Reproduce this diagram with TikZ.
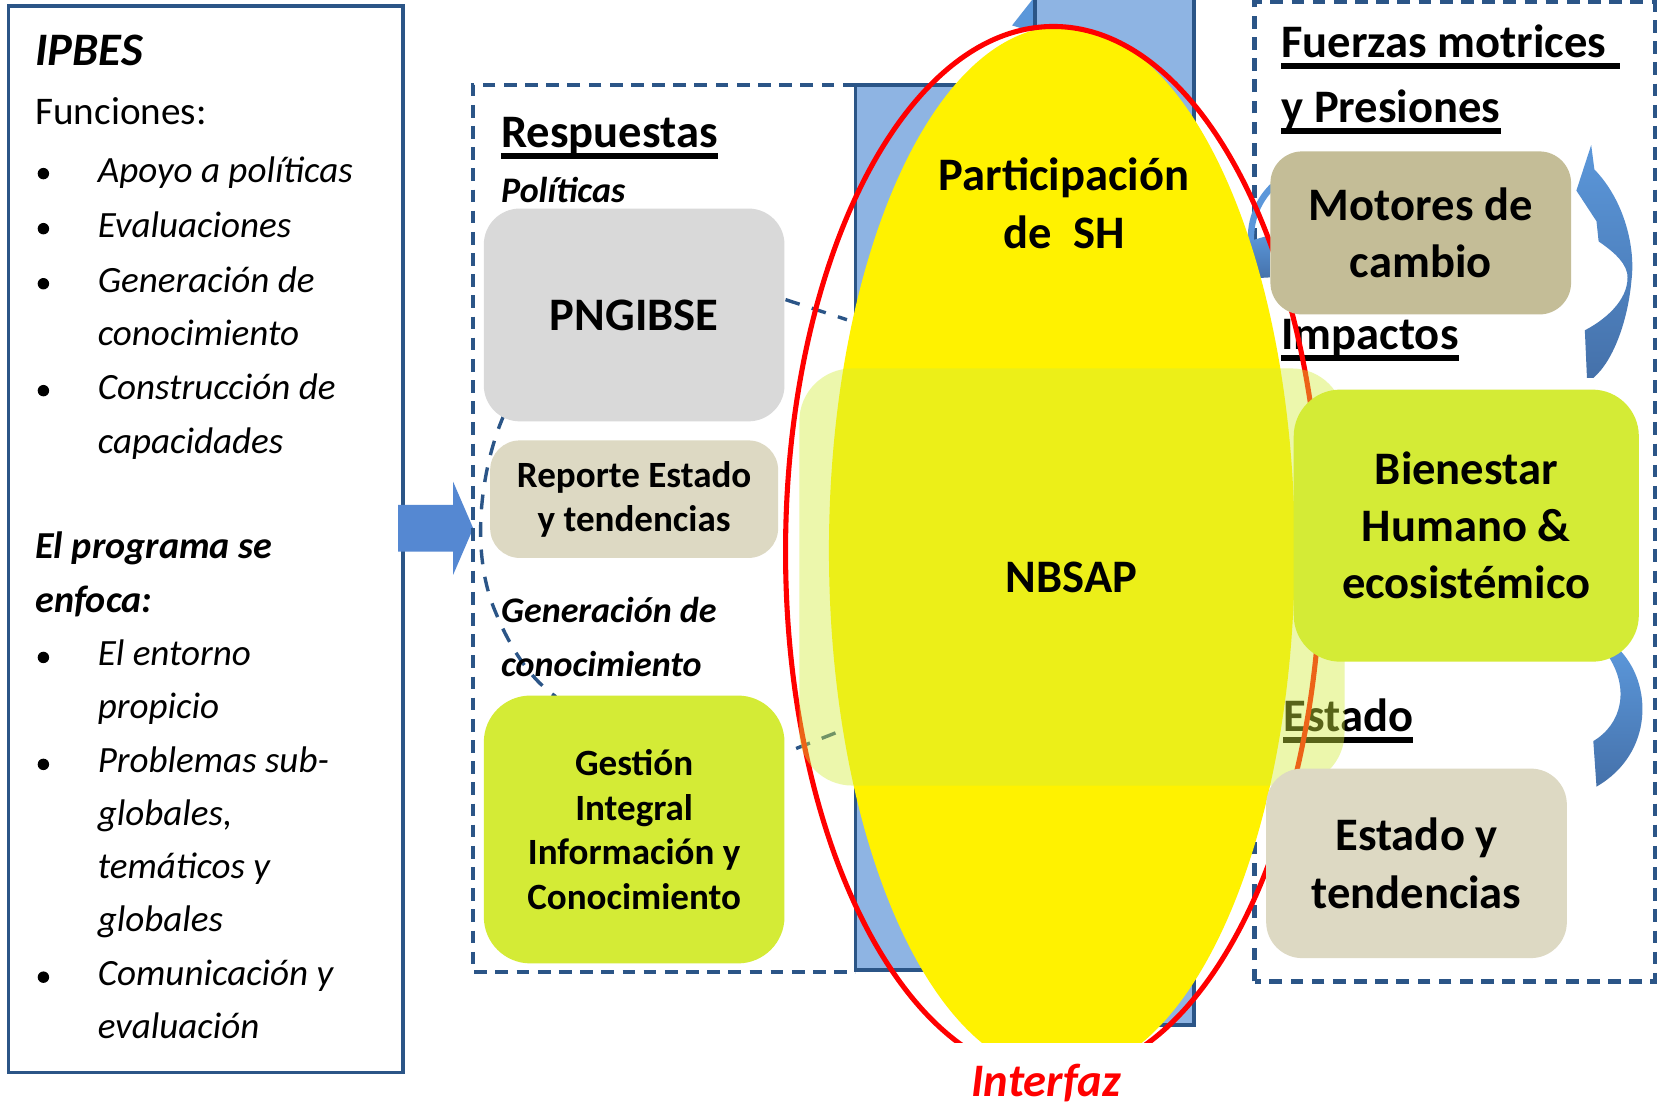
\documentclass[tikz,border=0pt]{standalone}
\usepackage{fontspec}
\setmainfont{Carlito}
\usetikzlibrary{calc}
\definecolor{dblue}{HTML}{2B5587}
\definecolor{rectblue}{HTML}{8EB4E3}
\definecolor{arrowblue}{HTML}{5588D2}
\definecolor{bluelight}{HTML}{5B97DA}
\definecolor{bluedark}{HTML}{4571AA}
\definecolor{greybox}{HTML}{D9D9D9}
\definecolor{tanbox}{HTML}{DDD9C3}
\definecolor{khaki}{HTML}{C4BD97}
\definecolor{lime}{HTML}{D4EB36}
\definecolor{palegreen}{HTML}{D2EC3A}
\newcommand\fsz[2]{\fontsize{#1}{#2}\selectfont}
\begin{document}
\begin{tikzpicture}[x=0.5pt,y=-0.5pt,
  lt/.style={anchor=base west, inner sep=0pt, font=\fsz{17.5}{21}\itshape},
  hd/.style={anchor=base west, inner sep=0pt, font=\fsz{22}{26}\bfseries},
  sub/.style={anchor=base west, inner sep=0pt, font=\fsz{17}{20}\bfseries\itshape},
  ul/.style={line width=2.8pt},
  dashbox/.style={draw=dblue, line width=2pt, dash pattern=on 6pt off 4pt},
  dcurve/.style={draw=dblue, line width=1.6pt, dash pattern=on 7pt off 6pt},
  bigbox/.style={inner sep=0pt, align=center, font=\fsz{22}{27}\bfseries},
  midbox/.style={inner sep=0pt, align=center, font=\fsz{17.5}{21}\bfseries},
  bul/.style={fill=black}
]
\useasboundingbox (0,0) rectangle (1568,1044);
\clip (0,0) rectangle (1568,1044);
\fill[white] (0,0) rectangle (1568,1044);

% ---------- left IPBES box ----------
\draw[dblue, line width=1.8pt] (8,6) rectangle (381,1013);
\node[anchor=base west, inner sep=0pt, font=\fsz{22}{26}\bfseries\itshape] (ipbes) at (33,62) {IPBES};
\node[anchor=base west, inner sep=0pt, font=\fsz{18.5}{22}] (func) at (33,118) {Funciones:};
\node[lt] (l1) at (92,172) {Apoyo a políticas};
\node[lt] (l2) at (92,224) {Evaluaciones};
\node[lt] (l3) at (92,276) {Generación de};
\node[lt] (l4) at (92,326) {conocimiento};
\node[lt] (l5) at (92,377) {Construcción de};
\node[lt] (l6) at (92,428) {capacidades};
\node[anchor=base west, inner sep=0pt, font=\fsz{18}{22}\bfseries\itshape] (prog1) at (33,528) {El programa se};
\node[anchor=base west, inner sep=0pt, font=\fsz{18}{22}\bfseries\itshape] (prog2) at (33,579) {enfoca:};
\node[lt] (m1) at (92,629) {El entorno};
\node[lt] (m2) at (92,679) {propicio};
\node[lt] (m3) at (92,730) {Problemas sub-};
\node[lt] (m4) at (92,780) {globales,};
\node[lt] (m5) at (92,830) {temáticos y};
\node[lt] (m6) at (92,880) {globales};
\node[lt] (m7) at (92,931) {Comunicación y};
\node[lt] (m8) at (92,981) {evaluación};
\foreach \yy in {164,216,268,369,621,722,923}
  \fill[bul] (41,\yy) circle[radius=2.7pt];

% ---------- block arrow ----------
\fill[arrowblue] (376,477) -- (428,477) -- (428,455) -- (447,499) -- (428,543) -- (428,521) -- (376,521) -- cycle;

% ---------- dashed frames ----------
\draw[dashbox] (808,80) -- (447,80) -- (447,918) -- (808,918);
\draw[dashbox] (1185,927) -- (1185,2) -- (1563,2) -- (1563,927) -- cycle;

% ---------- blue bars ----------
\fill[bluelight] (956,24) -- (978,-4) -- (982,-4) -- (982,32) -- cycle;
\filldraw[fill=rectblue, draw=dblue, line width=1.8pt]
  (808,916) -- (808,80) -- (978,80) -- (978,-10) -- (1128,-10) -- (1128,968) -- (1000,968) -- (1000,916) -- cycle;

% ---------- dashed remnants ----------
\draw[dcurve] (476,392) .. controls (455,440) and (443,520) .. (468,578) .. controls (483,615) and (503,643) .. (525,658);
\draw[dcurve] (742,283) -- (800,302);
\draw[dcurve] (752,707) -- (800,688);

% ---------- headings ----------
\node[hd] (resp) at (473,139) {Respuestas};
\draw[ul] ($(resp.base west)+(0,8)$) -- ($(resp.base east)+(0,8)$);
\node[sub] (pol) at (473,191) {Políticas};
\node[sub] (gen1) at (473,588) {Generación de};
\node[sub] (gen2) at (473,639) {conocimiento};

\node[hd] (fuer) at (1210,54) {Fuerzas motrices};
\draw[ul] ($(fuer.base west)+(0,8)$) -- ($(fuer.base east)+(12,8)$);
\node[hd] (pres) at (1210,116) {y Presiones};
\draw[ul] ($(pres.base west)+(0,8)$) -- ($(pres.base east)+(0,8)$);
\node[hd] (imp) at (1210,330) {Impactos};
\draw[ul] ($(imp.base west)+(0,8)$) -- ($(imp.base east)+(0,8)$);
\node[hd] (est) at (1212,691) {Estado};
\draw[ul] ($(est.base west)+(0,8)$) -- ($(est.base east)+(0,8)$);

% ---------- curved blue arrows ----------
\shade[top color=bluelight, bottom color=bluedark]
  (1503,137) -- (1506,160) .. controls (1535,190) and (1545,235) .. (1541,265)
  .. controls (1538,300) and (1525,340) .. (1505,357) -- (1499,357) -- (1497,312)
  .. controls (1520,300) and (1540,280) .. (1537,258)
  .. controls (1534,245) and (1520,235) .. (1510,228) -- (1508,209) -- (1489,180) -- cycle;
\shade[top color=bluelight, bottom color=bluedark]
  (1528,612) .. controls (1562,645) and (1562,712) .. (1508,743)
  -- (1505,700) .. controls (1532,684) and (1540,650) .. (1518,618) -- cycle;
\draw[bluelight, line width=3pt] (1202,176) .. controls (1186,192) and (1180,212) .. (1182,232);
\shade[top color=bluelight, bottom color=bluedark]
  (1179,228) -- (1200,222) -- (1200,262) -- (1182,263) -- cycle;

% ---------- interface ellipse ----------
\fill[yellow] (1003,520) ellipse[x radius=110pt, y radius=247.5pt];
\draw[red, line width=2.4pt] (995,521) ellipse[x radius=126.5pt, y radius=248pt];
\fill[palegreen, fill opacity=0.42, rounded corners=25pt] (755,348) rectangle (1270,742);

% ---------- boxes ----------
\node[bigbox, fill=greybox, rounded corners=17pt, minimum width=142pt, minimum height=100.5pt] (png) at (599,297.5) {PNGIBSE};
\node[midbox, fill=tanbox, rounded corners=14pt, minimum width=136pt, minimum height=55.5pt] (rep) at (599,471.5) {Reporte Estado\\y tendencias};
\node[midbox, fill=lime, rounded corners=22pt, minimum width=142pt, minimum height=126.5pt] (gest) at (599,783.5) {Gestión\\Integral\\Información y\\Conocimiento};
\node[bigbox, fill=khaki, rounded corners=15pt, minimum width=142pt, minimum height=77pt] (mot) at (1342,220) {Motores de\\cambio};
\node[bigbox, fill=lime, rounded corners=22pt, minimum width=163pt, minimum height=128.5pt] (bien) at (1385,496.5) {Bienestar\\Humano \&\\ecosistémico};
\node[bigbox, fill=tanbox, rounded corners=17pt, minimum width=142pt, minimum height=89.5pt] (esty) at (1338,815.5) {Estado y\\tendencias};

% ---------- ellipse texts ----------
\node[bigbox] (part) at (1005,192) {Participación\\de~~SH};
\node[bigbox] (nbsap) at (1012,545) {NBSAP};

\fill[white] (860,985) rectangle (1110,1050);
\node[inner sep=0pt, font=\fsz{22}{26}\bfseries\itshape, text=red] (interfaz) at (988,1023) {Interfaz};
\end{tikzpicture}
\end{document}
